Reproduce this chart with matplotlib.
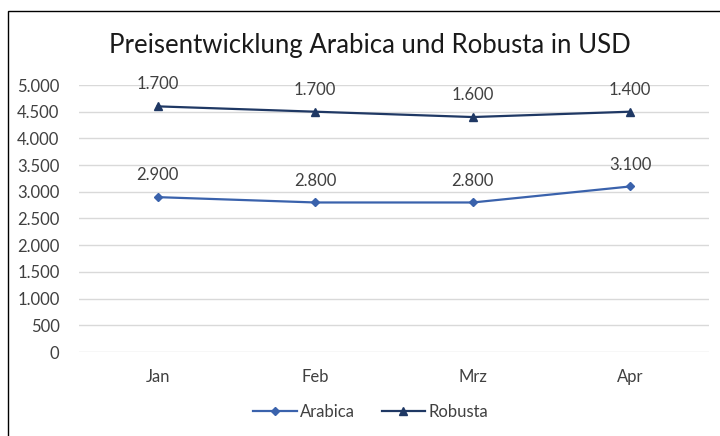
import matplotlib.pyplot as plt
from matplotlib.patches import Rectangle
from matplotlib.ticker import FuncFormatter

months = ['Jan', 'Feb', 'Mrz', 'Apr']
arabica = [2900, 2800, 2800, 3100]
robusta = [1700, 1700, 1600, 1400]

# gestapelt: Robusta liegt auf Arabica
robusta_top = [a + r for a, r in zip(arabica, robusta)]

c_arabica = '#3A62AC'
c_robusta = '#1F3864'
txt = '#404040'

plt.rcParams['font.family'] = ['Lato', 'DejaVu Sans']

fig = plt.figure(figsize=(7.2, 4.36), dpi=100)
ax = fig.add_axes([79 / 720, 1 - 352 / 436, 630 / 720, 267 / 436])

x = list(range(len(months)))
ax.plot(x, arabica, color=c_arabica, lw=1.6, marker='D', ms=4.5, label='Arabica')
ax.plot(x, robusta_top, color=c_robusta, lw=1.6, marker='^', ms=6, label='Robusta')

def fmt(v):
    return f'{v:,.0f}'.replace(',', '.')

for xi, v, top in zip(x, arabica, arabica):
    ax.annotate(fmt(v), (xi, top), xytext=(0, 10), textcoords='offset points',
                ha='center', va='bottom', fontsize=12, color=txt)
for xi, v, top in zip(x, robusta, robusta_top):
    ax.annotate(fmt(v), (xi, top), xytext=(0, 10), textcoords='offset points',
                ha='center', va='bottom', fontsize=12, color=txt)

ax.set_xlim(-0.5, 3.5)
ax.set_ylim(0, 5000)
ax.set_yticks(range(0, 5001, 500))
ax.yaxis.set_major_formatter(FuncFormatter(lambda v, p: fmt(v)))
ax.set_xticks(x)
ax.set_xticklabels(months)
ax.tick_params(length=0, labelsize=12, labelcolor=txt)
ax.tick_params(axis='x', pad=12)
ax.tick_params(axis='y', pad=14)
ax.grid(axis='y', color='#D9D9D9', lw=1)
ax.set_axisbelow(True)
for s in ax.spines.values():
    s.set_visible(False)

fig.text(370 / 720, 1 - 45 / 436, 'Preisentwicklung Arabica und Robusta in USD',
         ha='center', va='center', fontsize=18.5, color='#1a1a1a')

fig.legend(loc='center', bbox_to_anchor=(0.515, 1 - 412 / 436), ncol=2, frameon=False,
           fontsize=12, handlelength=2.6, columnspacing=1.6, handletextpad=0.2,
           labelcolor=txt)

# Rahmen links und oben
fig.add_artist(Rectangle((8 / 720, -0.1), 1.2, 1.1 - 11 / 436,
                         transform=fig.transFigure, fill=False, ec='black', lw=1))

fig.savefig('out.png', dpi=100)
